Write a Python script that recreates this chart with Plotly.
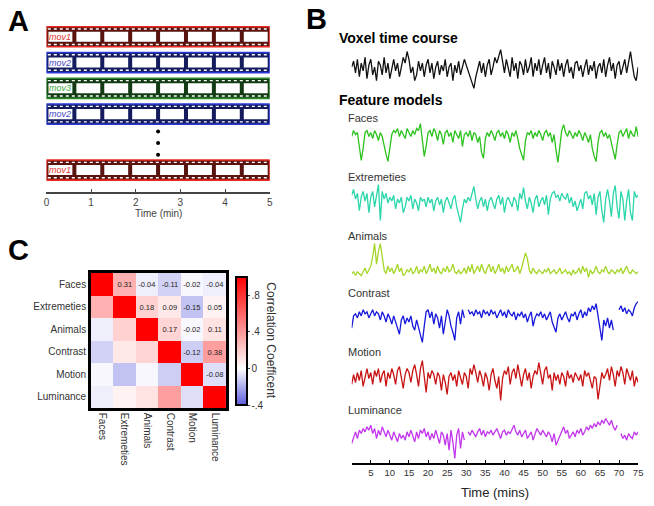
import plotly.graph_objects as go

W, H = 654, 506
FONT = "Arial, Liberation Sans, sans-serif"

def PX(x):
    return x / W

def PY(y):
    return 1 - y / H

# ---------------- Data ----------------
# Panel A: movie sequence
MOVIES = ["mov1", "mov2", "mov3", "mov2", "mov1"]
MOVIE_MINUTES = 5
FRAMES_PER_MOVIE = 8
A_TICKS = [0, 1, 2, 3, 4, 5]

# Panel B: time courses (sampled every 0.5 min)
TIME_STEP = 0.5
voxel = [0.1, 0.4, -0.2, 0.5, -0.4, 0.3, -0.1, 0.6, -0.5, 0.2,
         0.5, -0.3, 0.1, -0.6, 0.4, 0.2, -0.3, 0.6, -0.2, 0.3,
         -0.5, 0.1, 0.5, -0.1, 0.3, -0.4, 0.2, 0.6, 0.3, 0.9,
         0.5, -0.2, 0.1, -0.6, -0.3, 0.4, -0.1, 0.3, -0.4, 0.2,
         0.5, -0.2, 0.3, -0.5, 0.1, 0.4, -0.3, 0.2, -0.1, 0.5,
         -0.4, 0.1, 0.3, -0.6, 0.2, -0.2, 0.4, -0.3, 0.1, 0.5,
         0.2, -0.1, -0.5, -0.7, -1.0, -0.4, 0.1, 0.4, -0.2, 0.3,
         -0.4, 0.2, 0.5, -0.3, 0.1, 0.6, 0.3, 0.7, 1.0, 0.4,
         -0.2, 0.5, 0.1, -0.4, 0.6, -0.1, 0.3, -0.5, 0.4, 0.2,
         -0.3, 0.5, -0.2, 0.1, 0.6, -0.4, 0.3, -0.1, 0.5, -0.3,
         0.2, 0.6, -0.2, 0.3, -0.5, 0.4, 0.1, -0.3, 0.5, -0.1,
         0.3, -0.4, 0.2, 0.5, -0.2, 0.1, -0.5, 0.3, 0.4, -0.1,
         0.2, -0.4, 0.1, 0.5, -0.3, 0.2, -0.1, 0.4, -0.5, 0.1,
         0.3, -0.2, 0.5, -0.4, 0.2, 0.6, -0.1, 0.3, -0.5, 0.2,
         0.4, -0.3, 0.1, 0.5, -0.2, 0.3, 0.9, 0.2, -0.4, -0.6,
         0.1]
faces = [0.3, 0.6, 0.4, 0.5, -0.2, -0.9, -0.3, 0.5, 0.6, 0.3,
         0.5, 0.2, 0.6, 0.4, 0.1, 0.5, 0.3, -0.2, -0.6, -0.95,
         -0.3, 0.4, 0.6, 0.5, 0.7, 0.3, 0.6, 0.4, 0.2, 0.7,
         0.5, 0.3, 0.6, 0.4, 0.7, 0.6, 0.95, 0.2, -0.7, -0.2,
         0.5, 0.6, 0.3, 0.7, 0.5, 0.1, 0.6, 0.4, -0.1, 0.5,
         0.6, 0.3, 0.5, 0.0, 0.6, 0.4, 0.2, 0.6, -0.2, 0.4,
         0.5, 0.3, 0.6, 0.1, 0.5, 0.4, 0.0, 0.3, -0.5, -0.8,
         0.2, 0.5, 0.3, 0.6, 0.4, 0.1, 0.5, 0.6, 0.3, 0.5,
         0.2, 0.6, 0.4, 0.0, 0.5, 0.3, 0.6, 0.2, -0.3, -0.6,
         -0.9, 0.1, 0.5, 0.4, 0.6, 0.2, 0.5, 0.3, 0.6, 0.4,
         0.1, 0.5, 0.6, 0.3, 0.5, 0.0, 0.4, -0.4, -1.0, -0.2,
         0.6, 0.9, 0.5, 0.3, 0.6, 0.4, 0.2, 0.5, 0.3, 0.6,
         0.4, 0.1, 0.5, 0.3, 0.0, 0.4, -0.3, -0.7, -0.95, 0.0,
         0.5, 0.6, 0.3, 0.5, 0.2, 0.4, 0.0, -0.4, -0.85, -0.1,
         0.5, 0.6, 0.3, 0.5, 0.7, 0.2, 0.6, 0.4, 0.3, 0.8,
         0.3]
extremeties = [0.4, 0.7, 0.2, 0.5, -0.4, 0.3, 0.6, 0.1, 0.5, -0.5,
               0.3, 0.6, -0.2, 0.4, 0.95, -0.9, 0.6, 0.2, 0.5, 0.0,
               0.3, 0.1, 0.4, -0.3, 0.2, 0.0, 0.3, -0.5, -0.2, 0.3,
               0.1, 0.4, -0.3, 0.2, 0.0, -0.4, 0.3, 0.1, 0.2, -0.2,
               0.3, 0.0, 0.2, -0.4, 0.1, 0.3, -0.1, 0.2, -0.5, 0.1,
               0.3, 0.0, -0.3, 0.2, 0.4, -0.2, -0.6, -1.0, -0.3, 0.2,
               0.0, 0.3, 0.1, 0.5, 0.85, 0.2, -0.3, 0.1, 0.3, -0.2,
               0.2, -0.4, 0.1, 0.3, 0.0, -0.3, 0.2, 0.4, -0.1, 0.3,
               -0.5, 0.1, 0.3, 0.0, -0.2, 0.3, 0.1, -0.4, 0.5, 0.2,
               0.8, 0.1, -0.3, 0.3, 0.0, -0.5, 0.2, 0.4, -0.2, 0.1,
               0.3, -0.1, 0.4, -0.6, 0.2, 0.5, 0.6, 0.3, 0.4, 0.1,
               0.5, 0.3, 0.2, 0.5, 0.0, 0.3, -0.2, 0.1, -0.4, -0.1,
               0.2, -0.3, 0.5, 0.6, 0.2, 0.4, -0.1, 0.5, -0.6, 0.3,
               0.6, -0.4, -1.0, 0.2, 0.7, 0.1, -0.7, 0.5, 0.9, -0.2,
               -0.8, 0.6, 0.2, -0.9, 0.1, 0.7, -0.5, -0.9, 0.6, 0.3,
               0.4]
animals = [-0.6, -0.5, -0.7, -0.5, -0.6, -0.7, -0.5, -0.3, -0.6, -0.4,
           -0.2, 0.3, 1.0, -0.1, 0.6, 1.0, 0.2, -0.4, -0.6, -0.2,
           -0.5, -0.3, -0.6, -0.4, -0.1, -0.5, -0.3, -0.7, -0.6, -0.4,
           -0.5, -0.3, -0.6, -0.5, -0.2, -0.6, -0.4, -0.5, -0.2, -0.6,
           -0.4, -0.1, -0.5, -0.3, -0.6, -0.2, -0.5, -0.6, -0.3, -0.5,
           -0.2, -0.5, -0.4, -0.1, -0.5, -0.6, -0.4, -0.6, -0.5, -0.3,
           -0.6, -0.2, -0.5, -0.1, -0.6, -0.4, -0.2, -0.5, -0.1, -0.4,
           -0.6, -0.3, -0.1, -0.5, -0.2, -0.6, -0.4, -0.1, -0.5, -0.3,
           -0.6, -0.2, -0.5, -0.3, -0.1, -0.5, -0.4, -0.2, -0.6, -0.3,
           0.1, 0.5, 0.2, -0.4, -0.6, -0.3, -0.5, -0.6, -0.4, -0.5,
           -0.6, -0.4, -0.5, -0.3, -0.6, -0.5, -0.4, -0.6, -0.5, -0.3,
           -0.6, -0.5, -0.4, -0.6, -0.5, -0.7, -0.4, -0.6, -0.5, -0.3,
           -0.6, -0.2, -0.5, -0.3, -0.8, -0.4, -0.6, -0.5, -0.2, -0.5,
           -0.6, -0.4, -0.5, -0.2, -0.5, -0.6, -0.4, -0.5, -0.6, -0.4,
           -0.5, -0.3, -0.6, -0.4, -0.2, -0.5, -0.6, -0.4, -0.5, -0.6,
           -0.5]
contrast = [-0.3, 0.3, 0.4, 0.2, 0.5, 0.3, 0.6, 0.4, 0.5, 0.2,
            0.4, 0.6, 0.3, 0.5, 0.4, 0.1, 0.5, 0.3, 0.0, 0.4,
            0.2, -0.1, 0.3, 0.0, -0.2, -0.6, 0.1, 0.3, -0.1, 0.2,
            0.0, 0.3, -0.2, -0.4, 0.1, -0.3, -0.6, -1.0, -0.2, 0.5,
            0.6, 0.2, 0.5, -0.1, 0.4, 0.2, -0.3, 0.3, -0.6, 0.1,
            0.6, 0.3, -0.2, -0.5, -0.9, 0.2, 0.5, -0.1, 0.6, 0.2,
            None, 0.6, 0.4, 0.5, 0.3, 0.6, 0.4, 0.5, 0.2, 0.6,
            0.4, 0.5, 0.3, 0.6, 0.4, 0.5, 0.2, 0.4, 0.6, 0.3,
            0.5, 0.2, 0.6, 0.4, 0.3, 0.5, 0.1, 0.4, 0.3, 0.5,
            0.2, 0.4, 0.0, 0.3, 0.5, -0.2, 0.2, 0.4, 0.3, 0.5,
            0.2, 0.4, 0.1, 0.3, 0.5, 0.0, -0.3, -0.5, 0.2, 0.4,
            0.1, 0.3, 0.5, 0.2, 0.0, 0.4, 0.3, 0.5, 0.1, 0.4,
            0.6, 0.2, 0.5, 0.3, 0.7, 0.5, 0.8, 0.6, 0.9, 0.3,
            -0.4, -0.9, 0.1, -0.2, 0.2, -0.3, 0.1, -0.4, None, None,
            0.6, 0.8, 0.5, 0.7, 0.4, 0.6, 0.5, 0.3, 0.7, 0.9,
            1.0]
motion = [-0.2, 0.3, -0.1, 0.4, 0.0, 0.5, -0.3, 0.2, 0.6, 0.1,
          0.4, -0.2, 0.5, 0.2, 0.6, -0.1, 0.3, 0.5, -0.3, 0.4,
          0.1, 0.6, 0.3, -0.2, 0.5, 0.7, 0.2, -0.4, 0.3, 0.6,
          0.4, -0.1, 0.5, 0.8, 0.3, -0.3, 0.6, 1.0, 0.2, -0.6,
          0.4, 0.1, 0.5, 0.3, -0.2, 0.4, 0.2, -0.5, 0.3, -0.1,
          -0.7, 0.2, 0.4, 0.0, 0.3, -0.3, 0.5, 0.1, -0.2, 0.4,
          0.2, -0.4, 0.6, 0.3, 0.8, 0.4, -0.1, 0.5, 0.2, -0.3,
          0.4, 0.1, -0.5, 0.3, 0.6, 0.0, -0.4, 0.2, -1.0, 0.1,
          0.5, 0.3, 0.7, -0.2, 0.4, 0.6, 0.1, 0.8, 0.2, -0.3,
          0.3, 0.6, 0.0, 0.4, -0.4, 0.2, 0.5, 0.3, 0.9, 0.4,
          -0.2, 0.5, 0.7, 0.1, 0.3, -0.5, 0.4, 0.0, 0.3, -0.2,
          0.4, 0.2, -0.3, 0.5, 0.1, 0.3, -0.1, 0.4, 0.2, 0.0,
          0.3, -0.3, 0.5, 0.2, 0.4, 0.0, -0.4, 0.2, 0.1, -0.95,
          -0.2, 0.4, 0.1, 0.3, 0.6, 0.0, 0.7, 0.3, -0.3, 0.5,
          0.2, 0.7, 0.4, -0.2, 0.6, 0.3, 0.0, 0.5, -0.3, 0.2,
          -0.1]
luminance = [-0.5, -0.1, 0.2, -0.2, 0.3, 0.1, 0.4, 0.2, 0.5, 0.3,
             0.6, 0.1, 0.4, -0.2, 0.3, 0.0, 0.5, 0.2, -0.1, 0.3,
             0.0, -0.3, 0.2, -0.1, -0.4, 0.1, -0.2, 0.0, -0.3, 0.2,
             -0.1, 0.3, 0.0, -0.4, 0.2, -0.2, 0.3, 0.1, 0.4, -0.1,
             0.2, -0.3, 0.1, -0.2, 0.3, -0.1, -0.5, 0.2, 0.0, -0.6,
             0.1, -0.9, 0.3, -0.4, -1.4, 0.0, 0.4, -0.8, 0.2, -0.3,
             None, 0.2, 0.0, 0.3, 0.1, -0.1, 0.2, 0.4, 0.0, 0.3,
             -0.1, 0.2, 0.1, 0.3, 0.0, 0.2, 0.4, 0.1, -0.2, 0.2,
             0.3, 0.0, 0.2, 0.1, 0.4, 0.6, 0.2, 0.0, 0.3, -0.1,
             0.1, 0.3, -0.2, 0.0, 0.2, -0.3, 0.1, 0.4, 0.2, 0.0,
             0.3, 0.1, -0.1, 0.2, 0.0, -0.4, 0.1, -0.6, -0.3, 0.0,
             0.2, 0.5, 0.1, 0.3, -0.2, 0.0, 0.2, -0.1, 0.3, 0.1,
             0.4, 0.0, 0.2, 0.5, 0.3, 0.6, 0.4, 0.7, 0.5, 0.8,
             0.6, 0.9, 0.7, 1.0, 0.8, 0.6, 0.9, 0.5, 0.3, 0.6,
             None, 0.1, -0.2, 0.0, -0.3, 0.1, -0.1, -0.2, 0.2, 0.0,
             0.2]
B_TICKS = [5, 10, 15, 20, 25, 30, 35, 40, 45, 50, 55, 60, 65, 70, 75]

# Panel C: correlation matrix
FEATURES = ["Faces", "Extremeties", "Animals", "Contrast", "Motion", "Luminance"]
CORR = [[1.00, 0.31, -0.04, -0.11, -0.02, -0.04],
        [0.31, 1.00, 0.18, 0.09, -0.15, 0.05],
        [-0.04, 0.18, 1.00, 0.17, -0.02, 0.11],
        [-0.11, 0.09, 0.17, 1.00, -0.12, 0.38],
        [-0.02, -0.15, -0.02, -0.12, 1.00, -0.08],
        [-0.04, 0.05, 0.11, 0.38, -0.08, 1.00]]
CBAR_TICKS = [-0.4, 0.0, 0.4, 0.8]
CBAR_TICKTEXT = ["-.4", "0", ".4", ".8"]

# ---------------- Styles ----------------
MOVIE_STYLE = {
    "mov1": dict(edge="#e8281e", fill="#5a1410", text="#e23a32"),
    "mov2": dict(edge="#2a3ad8", fill="#141c5e", text="#4848c8"),
    "mov3": dict(edge="#2c8a2c", fill="#143c14", text="#3ca83c"),
}
ROW_SLOTS = [0, 1, 2, 3, 5.17]
DOT_SLOTS = [3.67, 4.12, 4.58]

TRACE_COLORS = {
    "voxel": "#111111",
    "Faces": "#2cc21e",
    "Extremeties": "#2ad6aa",
    "Animals": "#a6d62a",
    "Contrast": "#1818dc",
    "Motion": "#c81414",
    "Luminance": "#c236ec",
}
# pixel bands (top, bottom) for each trace
BANDS = {
    "voxel": (49, 89),
    "Faces": (123, 163),
    "Extremeties": (184, 223),
    "Animals": (243, 278),
    "Contrast": (301, 343),
    "Motion": (360, 401),
    "Luminance": (418, 459),
}
LABEL_Y = {"Faces": 118, "Extremeties": 177, "Animals": 236,
           "Contrast": 293, "Motion": 352, "Luminance": 410}

fig = go.Figure()
shapes = []
annotations = []

# ---------------- Panel A ----------------
fw = MOVIE_MINUTES / FRAMES_PER_MOVIE
HALF = 0.39
WHITE_HALF = 0.195
HOLE_OFF = 0.30
GAP = 0.045
for mv, s in zip(MOVIES, ROW_SLOTS):
    st = MOVIE_STYLE[mv]
    shapes.append(dict(type="rect", xref="x", yref="y", x0=0, x1=MOVIE_MINUTES,
                       y0=s - HALF, y1=s + HALF, fillcolor=st["fill"],
                       line=dict(color=st["edge"], width=1.6), layer="above"))
    for sign in (-1, 1):
        shapes.append(dict(type="line", xref="x", yref="y", x0=0.03, x1=MOVIE_MINUTES - 0.03,
                           y0=s + sign * HOLE_OFF, y1=s + sign * HOLE_OFF,
                           line=dict(color="white", width=1.4, dash="dot"), layer="above"))
    for k in range(FRAMES_PER_MOVIE):
        shapes.append(dict(type="rect", xref="x", yref="y", x0=k * fw + GAP, x1=(k + 1) * fw - GAP,
                           y0=s - WHITE_HALF, y1=s + WHITE_HALF, fillcolor="white",
                           line=dict(width=0), layer="above"))
    annotations.append(dict(x=fw / 2, y=s, xref="x", yref="y", text="<i>" + mv + "</i>",
                            xanchor="center", yanchor="middle",
                            showarrow=False, font=dict(family=FONT, size=9, color=st["text"])))

fig.add_trace(go.Scatter(x=[MOVIE_MINUTES / 2] * len(DOT_SLOTS), y=DOT_SLOTS, mode="markers",
                         marker=dict(color="black", size=4), xaxis="x", yaxis="y",
                         showlegend=False, hoverinfo="skip"))

# ---------------- Panel B ----------------
T = [i * TIME_STEP for i in range(len(voxel))]
series = [("voxel", voxel), ("Faces", faces), ("Extremeties", extremeties),
          ("Animals", animals), ("Contrast", contrast), ("Motion", motion),
          ("Luminance", luminance)]
yaxes_layout = {}
for idx, (name, vals) in enumerate(series):
    ynum = idx + 2
    fig.add_trace(go.Scatter(x=T, y=vals, mode="lines", xaxis="x2", yaxis="y%d" % ynum,
                             line=dict(color=TRACE_COLORS[name], width=1.3),
                             connectgaps=False, showlegend=False, hoverinfo="skip"))
    v = [a for a in vals if a is not None]
    top, bot = BANDS[name]
    yaxes_layout["yaxis%d" % ynum] = dict(domain=[PY(bot), PY(top)], anchor="x2",
                                          range=[min(v) - 0.03, max(v) + 0.03], visible=False)
    if name != "voxel":
        annotations.append(dict(x=PX(347), y=PY(LABEL_Y[name]), xref="paper", yref="paper",
                                text=name, showarrow=False, xanchor="left", yanchor="middle",
                                font=dict(family=FONT, size=11, color="#333333")))

# ---------------- Panel C ----------------
text = [["%.2f" % CORR[r][c] if c > r else "" for c in range(len(FEATURES))]
        for r in range(len(FEATURES))]
fig.add_trace(go.Heatmap(
    z=CORR, x=FEATURES, y=FEATURES, xaxis="x3", yaxis="y9",
    zmin=-0.4, zmax=1.0,
    colorscale=[[0, "rgb(92,92,222)"], [0.4 / 1.4, "rgb(255,255,255)"], [1, "rgb(255,0,0)"]],
    text=text, texttemplate="%{text}", textfont=dict(family=FONT, size=7.5, color="#222222"),
    hoverinfo="skip",
    colorbar=dict(x=PX(236), xanchor="left", y=PY(341), yanchor="middle",
                  len=(405 - 277) / H, lenmode="fraction", thickness=11,
                  xpad=0, ypad=0,
                  outlinewidth=2, outlinecolor="black",
                  tickvals=CBAR_TICKS, ticktext=CBAR_TICKTEXT, ticks="outside", ticklen=2,
                  tickfont=dict(family=FONT, size=10, color="#333333")),
))

# ---------------- Text annotations ----------------
def note(x, y, txt, size, color, xanchor="center", angle=0):
    annotations.append(dict(x=PX(x), y=PY(y), xref="paper", yref="paper", text=txt,
                            showarrow=False, xanchor=xanchor, yanchor="middle", textangle=angle,
                            font=dict(family=FONT, size=size, color=color)))

for lbl, x, y in [("A", 16, 21), ("B", 317, 19), ("C", 16, 250)]:
    note(x, y, "<b>%s</b>" % lbl, 29, "black")
note(338, 38, "<b>Voxel time course</b>", 14, "black", xanchor="left")
note(338, 100, "<b>Feature models</b>", 14, "black", xanchor="left")
note(157, 213, "Time (min)", 10, "#444444")
note(498, 492, "Time (mins)", 13, "#222222")
note(271, 341, "Correlation Coefficent", 12, "#333333", angle=90)

layout = dict(
    width=W, height=H, margin=dict(l=0, r=0, t=0, b=0, pad=0),
    paper_bgcolor="white", plot_bgcolor="rgba(0,0,0,0)",
    font=dict(family=FONT),
    showlegend=False,
    shapes=shapes, annotations=annotations,
    xaxis=dict(domain=[PX(44), PX(270)], range=[0, MOVIE_MINUTES], anchor="y",
               showline=True, linecolor="#444444", linewidth=1.5, ticks="inside", ticklen=3,
               tickcolor="#444444", tickvals=A_TICKS, showgrid=False, zeroline=False,
               tickfont=dict(family=FONT, size=10, color="#444444")),
    yaxis=dict(domain=[PY(192), PY(20)], range=[6.02, -0.65], visible=False),
    xaxis2=dict(domain=[PX(353), PX(643)], range=[0, 75], anchor="free", position=PY(464),
                showline=True, linecolor="black", linewidth=2, ticks="inside", ticklen=3,
                tickcolor="black", tickvals=B_TICKS, showgrid=False, zeroline=False,
                tickfont=dict(family=FONT, size=9.5, color="#333333")),
    xaxis3=dict(domain=[PX(89), PX(226)], anchor="y9", tickangle=90, showgrid=False,
                showline=True, mirror=True, linecolor="black", linewidth=2.5, ticks="",
                tickfont=dict(family=FONT, size=10, color="#333333")),
    yaxis9=dict(domain=[PY(408), PY(273)], anchor="x3", autorange="reversed", showgrid=False,
                showline=True, mirror=True, linecolor="black", linewidth=2.5, ticks="",
                tickfont=dict(family=FONT, size=10, color="#333333")),
)
layout.update(yaxes_layout)
fig.update_layout(**layout)

fig.write_html("out.html", config={"displayModeBar": False},
               post_script="document.body.style.margin='0';document.body.style.padding='0';")
